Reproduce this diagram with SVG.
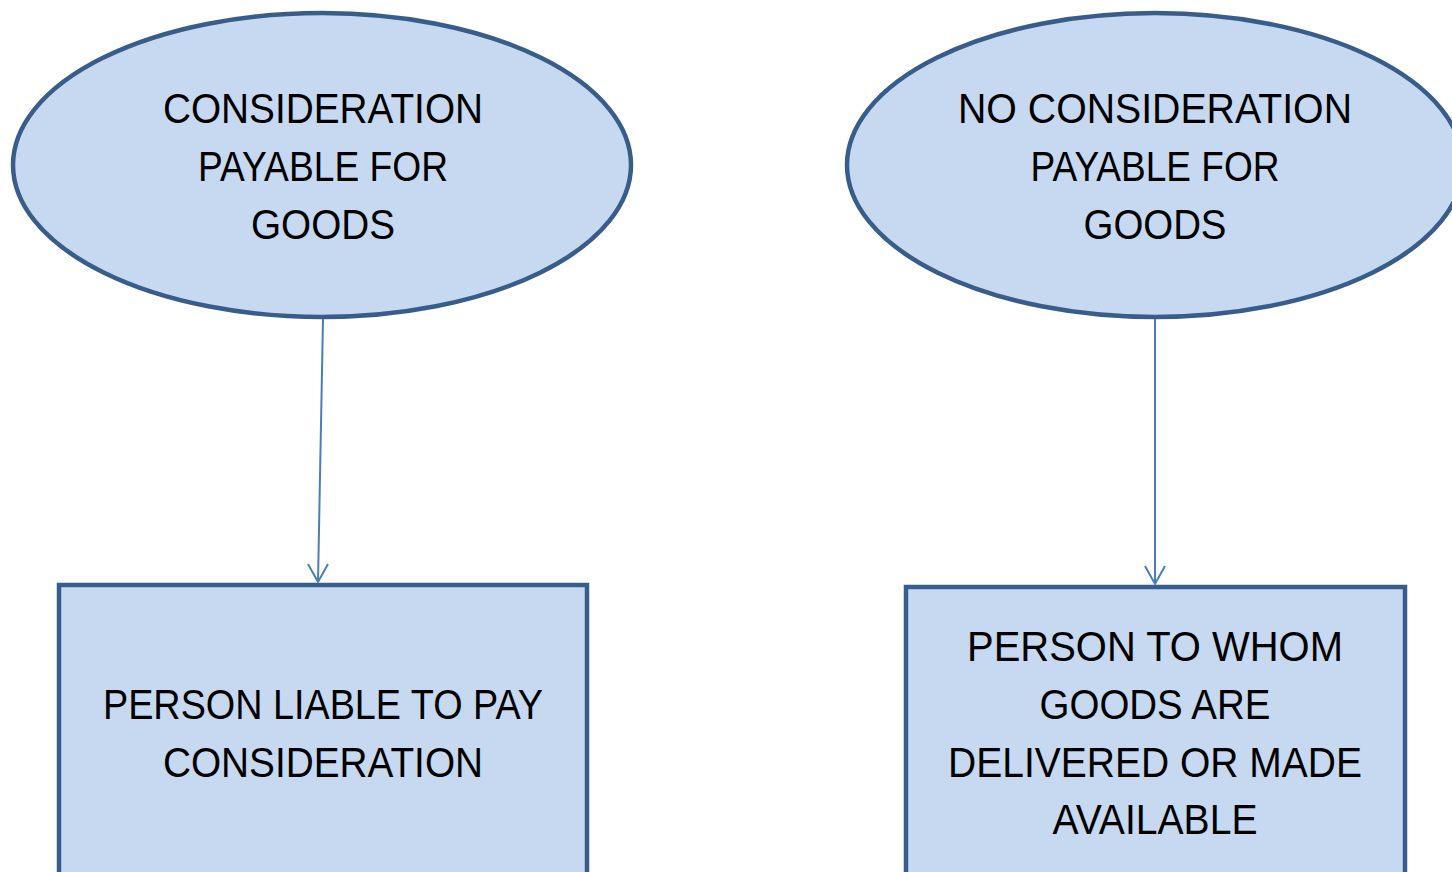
<svg xmlns="http://www.w3.org/2000/svg" width="1452" height="872" viewBox="0 0 1452 872">
<style>
.shape{fill:#c6d9f1;stroke:#385d8a;stroke-width:4.5}
.t{font-family:"Liberation Sans",Arial,sans-serif;font-size:42px;fill:#000;text-anchor:middle}
.c{stroke:#4a7ebb;stroke-width:2;fill:none}
</style>
<rect width="1452" height="872" fill="#fff"/>
<g id="n1">
<ellipse class="shape" cx="322" cy="165" rx="309" ry="152"/>
<text class="t" x="323" y="123" textLength="320" lengthAdjust="spacingAndGlyphs">CONSIDERATION</text>
<text class="t" x="323" y="181" textLength="250" lengthAdjust="spacingAndGlyphs">PAYABLE FOR</text>
<text class="t" x="323" y="239" textLength="144" lengthAdjust="spacingAndGlyphs">GOODS</text>
</g>
<g id="n2">
<ellipse class="shape" cx="1155" cy="165" rx="308" ry="152"/>
<text class="t" x="1155" y="123" textLength="394" lengthAdjust="spacingAndGlyphs">NO CONSIDERATION</text>
<text class="t" x="1155" y="181" textLength="249" lengthAdjust="spacingAndGlyphs">PAYABLE FOR</text>
<text class="t" x="1155" y="239" textLength="143" lengthAdjust="spacingAndGlyphs">GOODS</text>
</g>
<g id="n3">
<rect class="shape" x="59" y="585" width="528" height="300"/>
<text class="t" x="323" y="719" textLength="440" lengthAdjust="spacingAndGlyphs">PERSON LIABLE TO PAY</text>
<text class="t" x="323" y="777" textLength="320" lengthAdjust="spacingAndGlyphs">CONSIDERATION</text>
</g>
<g id="n4">
<rect class="shape" x="906" y="587" width="499" height="300"/>
<text class="t" x="1155" y="661" textLength="376" lengthAdjust="spacingAndGlyphs">PERSON TO WHOM</text>
<text class="t" x="1155" y="719" textLength="231" lengthAdjust="spacingAndGlyphs">GOODS ARE</text>
<text class="t" x="1155" y="777" textLength="414" lengthAdjust="spacingAndGlyphs">DELIVERED OR MADE</text>
<text class="t" x="1155" y="834" textLength="205" lengthAdjust="spacingAndGlyphs">AVAILABLE</text>
</g>
<g id="connectors">
<line class="c" x1="323" y1="319" x2="318" y2="582"/>
<polyline class="c" points="308,564 318,582 328,564"/>
<line class="c" x1="1155" y1="319" x2="1155" y2="584"/>
<polyline class="c" points="1145,566 1155,584 1165,566"/>
</g>
</svg>
